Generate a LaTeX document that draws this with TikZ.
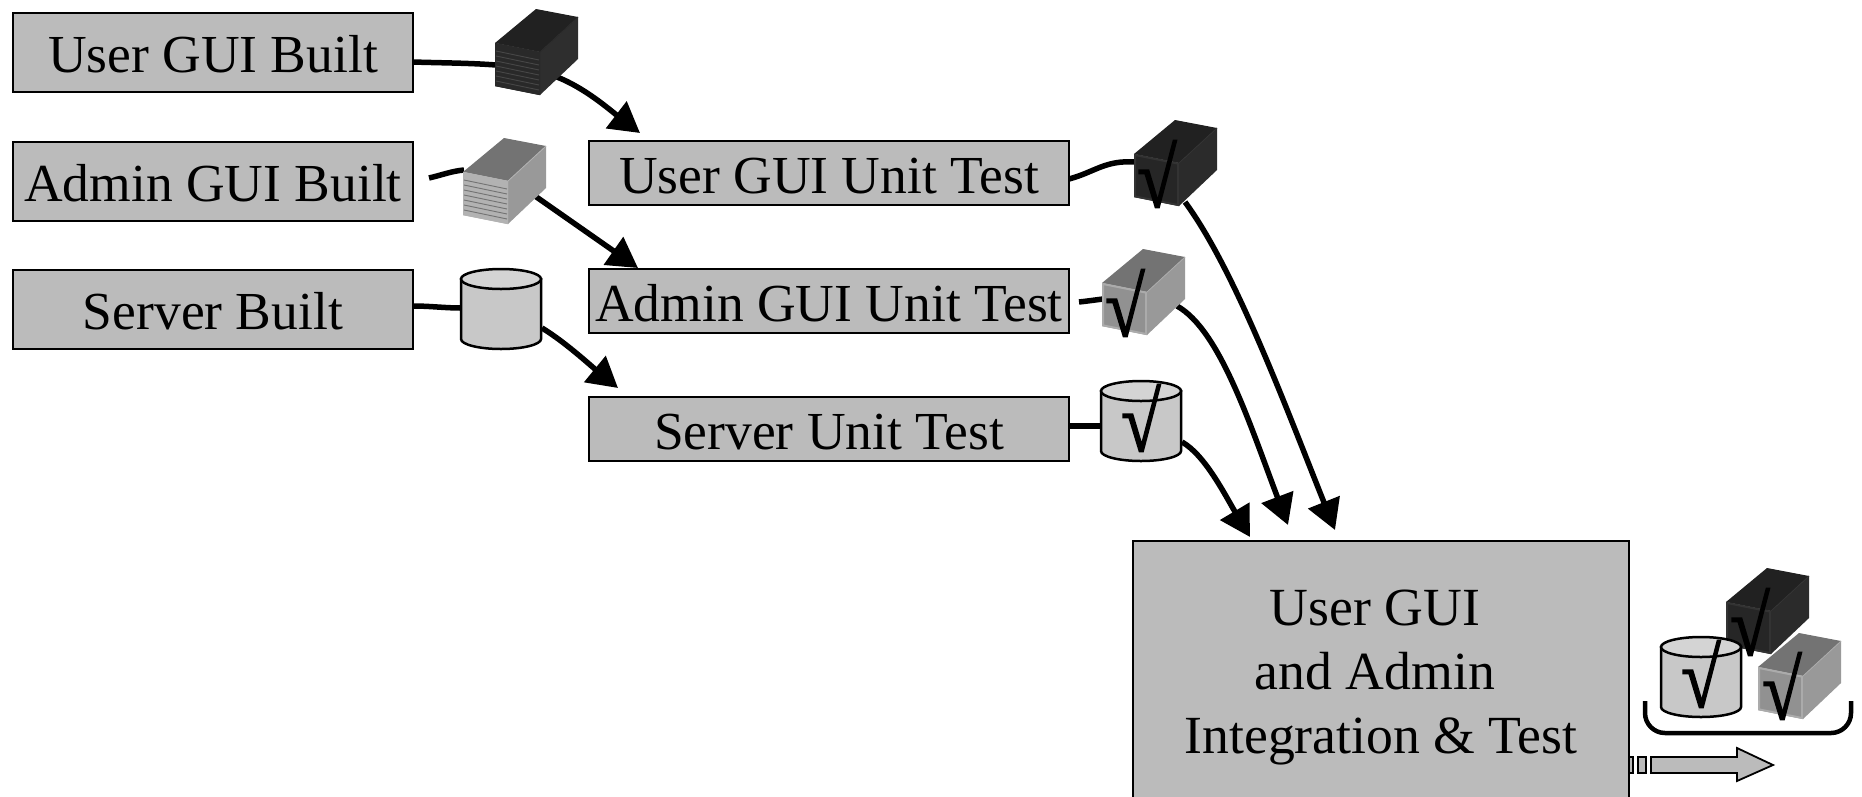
\documentclass[tikz,border=0pt]{standalone}
\usepackage{fontspec}
\setmainfont{Liberation Serif}
\newfontfamily\tickfont[FakeBold=2]{Liberation Serif}
\usetikzlibrary{arrows.meta,calc}
\definecolor{boxgrey}{HTML}{BBBBBB}
\definecolor{cylbody}{HTML}{C8C8C8}
\definecolor{cyltop}{HTML}{D4D4D4}
\tikzset{
  taskbox/.style={draw=black,line width=2pt,fill=boxgrey,inner sep=0pt,font=\fontsize{53.5}{64}\selectfont,text height=40.2pt,text depth=0pt},
  wire/.style={line width=5.5pt,line cap=butt},
  flow/.style={wire,-{Triangle[length=30pt,width=33pt]}},
  tick/.style={inner sep=0pt,font=\tickfont\fontsize{84}{84}\selectfont,xscale=.85,transform shape},
  cylline/.style={draw=black,line width=2.5pt}
}
% #1 position, #2 front, #3 top, #4 right, #5 edge of front
\newcommand\cubebody[5]{%
  \begin{scope}[shift={(#1)}]
    \fill[#3] (0,0) -- (45,9) -- (83,-26) -- (41,-34) -- cycle;
    \fill[#4] (45,9) -- (83,-26) -- (83,16) -- (45,52) -- cycle;
    \fill[#2] (0,0) -- (45,9) -- (45,52) -- (0,43) -- cycle;
    \draw[#5,line width=.8pt] (45,9) -- (83,-26);
    \draw[#5,line width=2pt] (1,1) -- (44,9.6) -- (44,51) -- (1,42.4) -- cycle;
  \end{scope}}
\newcommand\cubestripes[2]{%
  \begin{scope}[shift={(#1)}]
    \foreach \k in {8,13,...,39} \draw[#2,line width=.9pt] (1,\k) -- (44,\k+9);
  \end{scope}}
\newcommand\cylbody[1]{%
  \begin{scope}[shift={(#1)}]
    \path[cylline,fill=cylbody] (0,0) -- (0,60) arc[start angle=180,end angle=0,x radius=40,y radius=10] -- (80,0) -- cycle;
    \path[cylline,fill=cyltop] (40,0) ellipse[x radius=40,y radius=10];
  \end{scope}}
\begin{document}
\begin{tikzpicture}[x=1pt,y=-1pt]
\useasboundingbox (0,0) rectangle (1862,796);
\clip (0,0) rectangle (1862,796);
% boxes
\node[taskbox,minimum width=400pt,minimum height=79pt] (ugb) at (213,52.5) {User GUI Built};
\node[taskbox,minimum width=400pt,minimum height=79pt] (agb) at (213,181) {Admin GUI Built};
\node[taskbox,minimum width=400pt,minimum height=79pt] (sb) at (213,309) {Server Built};
\node[taskbox,minimum width=480pt,minimum height=64pt] (ugt) at (829,173) {User GUI Unit Test};
\node[taskbox,minimum width=480pt,minimum height=64pt] (agt) at (829,301) {Admin GUI Unit Test};
\node[taskbox,minimum width=480pt,minimum height=64pt] (st) at (829,429) {Server Unit Test};
\node[taskbox,minimum width=496pt,minimum height=260pt] (integ) at (1381,671) {};
\node[inner sep=0pt,font=\fontsize{53.7}{64}\selectfont,align=center] (integtext) at (1381,678) {\hspace*{-12pt}User GUI\\\hspace*{-12pt}and Admin\\Integration \& Test};
% anchor points
\coordinate (ugbout) at (413,62);
\coordinate (agbout) at (429,178);
\coordinate (sbout) at (413,306);
\coordinate (ugtout) at (1069,179);
\coordinate (agtout) at (1079,302);
\coordinate (stout) at (1069,426);
\coordinate (cAin) at (496,65);   \coordinate (cAout) at (557,77);
\coordinate (cBin) at (464,170);  \coordinate (cBout) at (535,196);
\coordinate (cCin) at (461,308);  \coordinate (cCout) at (542,328);
\coordinate (cDin) at (1135,162); \coordinate (cDout) at (1185,202);
\coordinate (cEin) at (1103,299); \coordinate (cEout) at (1177,306);
\coordinate (cFin) at (1101,426); \coordinate (cFout) at (1182,442);
\coordinate (tipA) at (640,133);
\coordinate (tipB) at (638,268);
\coordinate (tipC) at (618,388);
\coordinate (tipD) at (1335,530);
\coordinate (tipE) at (1288,525);
\coordinate (tipF) at (1250,537);
% connectors
\draw[wire] (ugbout) .. controls (445,63) and (470,63) .. (cAin);
\draw[wire] (agbout) .. controls (442,175) and (452,171) .. (cBin);
\draw[wire] (sbout) .. controls (430,306) and (445,308) .. (cCin);
\draw[wire] (ugtout) .. controls (1095,172) and (1105,160) .. (cDin);
\draw[wire] (agtout) .. controls (1088,301) and (1095,300) .. (cEin);
\draw[wire] (stout) -- (cFin);
\draw[flow] (cAout) .. controls (585,88) and (610,110) .. (tipA);
\draw[flow] (cBout) -- (tipB);
\draw[flow] (cCout) .. controls (565,342) and (590,365) .. (tipC);
\draw[flow] (cDout) .. controls (1235,270) and (1285,405) .. (tipD);
\draw[flow] (cEout) .. controls (1220,330) and (1250,425) .. (tipE);
\draw[flow] (cFout) .. controls (1205,455) and (1225,495) .. (tipF);
% containers
\cubebody{495,43}{black!84}{black!87}{black!82}{black!84}
\cubestripes{495,43}{black!72}
\cubebody{463,172}{black!30}{black!55}{black!40}{black!30}
\cubestripes{463,172}{black!55}
\cylbody{461,279}
\cubebody{1134,154}{black!85}{black!87}{black!83}{black!80}
\node[tick] (ta) at (1157,174) {√};
\cubebody{1102,283}{black!43}{black!55}{black!40}{black!33}
\node[tick] (tb) at (1125,303) {√};
\cylbody{1101,391}
\node[tick] (tc) at (1141,418) {√};
% bottom-right group
\cubebody{1726,602}{black!85}{black!87}{black!83}{black!80}
\node[tick] (td) at (1750,622) {√};
\cubebody{1758,667}{black!43}{black!55}{black!40}{black!33}
\node[tick] (te) at (1782,686) {√};
\cylbody{1661,647}
\node[tick] (tf) at (1701,674) {√};
\coordinate (brL) at (1645,701);
\coordinate (brR) at (1851,701);
\draw[line width=4.5pt] (brL) -- ++(0,12) arc[start angle=180,end angle=90,radius=20] -- (1831,733) arc[start angle=90,end angle=0,radius=20] -- (brR);
% outgoing arrow
\path[draw=black,line width=1.8pt,fill=boxgrey] (1629,757) rectangle (1633,773);
\path[draw=black,line width=1.8pt,fill=boxgrey] (1638,757) rectangle (1646,773);
\path[draw=black,line width=1.8pt,fill=boxgrey] (1651,757) -- (1737,757) -- (1737,748) -- (1773,765) -- (1737,781) -- (1737,773) -- (1651,773) -- cycle;
\end{tikzpicture}
\end{document}
